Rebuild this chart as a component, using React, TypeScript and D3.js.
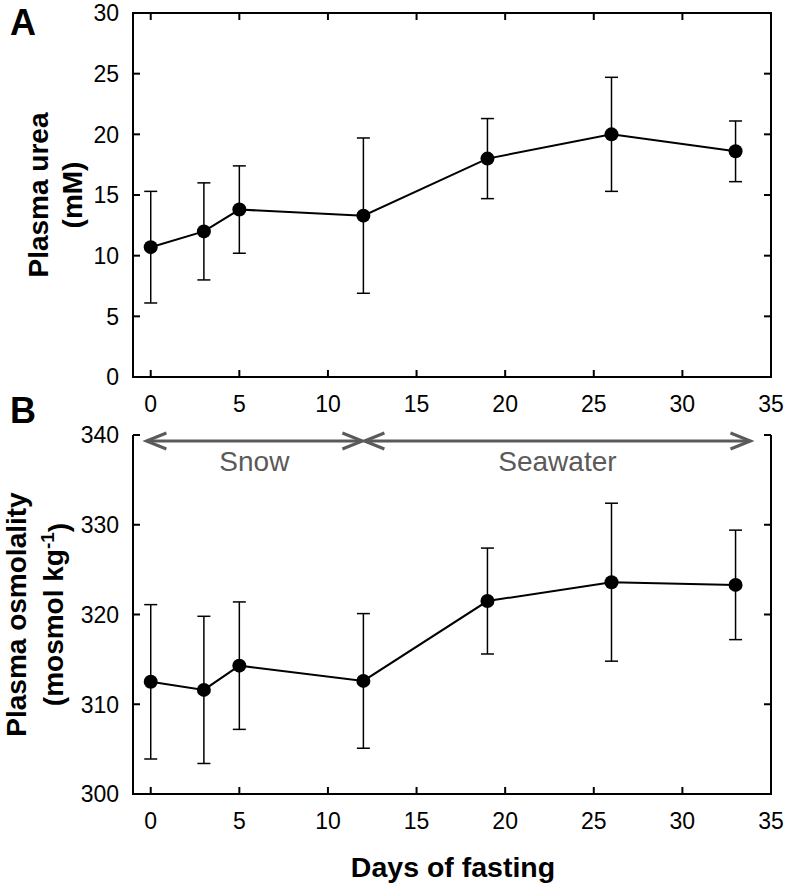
import React from "react";
import * as d3 from "d3";

const days = [0, 3, 5, 12, 19, 26, 33];
const ureaMean = [10.7, 12.0, 13.8, 13.3, 18.0, 20.0, 18.6];
const ureaErr = [4.6, 4.0, 3.6, 6.4, 3.3, 4.7, 2.5];
const osmoMean = [312.5, 311.6, 314.3, 312.6, 321.5, 323.6, 323.3];
const osmoErr = [8.6, 8.2, 7.1, 7.5, 5.9, 8.8, 6.1];
const xTicks = [0, 5, 10, 15, 20, 25, 30, 35];
const ureaTicks = [0, 5, 10, 15, 20, 25, 30];
const osmoTicks = [300, 310, 320, 330, 340];
const periodLabels = ["Snow", "Seawater"];
const periodStart = [-0.3, 12];
const periodEnd = [12, 33.9];

const FONT = "'Liberation Sans', Arial, Helvetica, sans-serif";
const W = 786;
const H = 884;

const x = d3.scaleLinear().domain([-1, 35]).range([133, 771]);
const yA = d3.scaleLinear().domain([0, 30]).range([377, 13]);
const yB = d3.scaleLinear().domain([300, 340]).range([794, 435]);

const TICK = 7;
const CAP = 6.5;

function Series({ y, mean, err }: { y: d3.ScaleLinear<number, number>; mean: number[]; err: number[] }) {
  const line = d3
    .line<number>()
    .x((_, i) => x(days[i]))
    .y((d) => y(d));
  return (
    <g>
      {days.map((d, i) => {
        const cx = x(d);
        const hi = y(mean[i] + err[i]);
        const lo = y(mean[i] - err[i]);
        return (
          <g key={i} stroke="#000" strokeWidth={1.5}>
            <line x1={cx} x2={cx} y1={hi} y2={lo} />
            <line x1={cx - CAP} x2={cx + CAP} y1={hi} y2={hi} />
            <line x1={cx - CAP} x2={cx + CAP} y1={lo} y2={lo} />
          </g>
        );
      })}
      <path d={line(mean) || ""} fill="none" stroke="#000" strokeWidth={2} />
      {days.map((d, i) => (
        <circle key={i} cx={x(d)} cy={y(mean[i])} r={7} fill="#000" />
      ))}
    </g>
  );
}

function Axes({ y, ticks, top }: { y: d3.ScaleLinear<number, number>; ticks: number[]; top: boolean }) {
  const [y0, y1] = y.range();
  const [x0, x1] = x.range();
  return (
    <g stroke="#000" strokeWidth={2} fill="none">
      <line x1={x0} x2={x0} y1={y1} y2={y0 + 1} />
      <line x1={x1} x2={x1} y1={y1} y2={y0 + 1} />
      <line x1={x0 - 1} x2={x1 + 1} y1={y0} y2={y0} />
      {top && <line x1={x0 - 1} x2={x1 + 1} y1={y1} y2={y1} />}
      {xTicks.map((t) => (
        <g key={t}>
          <line x1={x(t)} x2={x(t)} y1={y0} y2={y0 - TICK} />
          {top && <line x1={x(t)} x2={x(t)} y1={y1} y2={y1 + TICK} />}
        </g>
      ))}
      {ticks.map((t) => (
        <g key={t}>
          <line x1={x0} x2={x0 + TICK} y1={y(t)} y2={y(t)} />
          <line x1={x1} x2={x1 - TICK} y1={y(t)} y2={y(t)} />
        </g>
      ))}
      <g fill="#000" stroke="none" fontFamily={FONT} fontSize={23}>
        {ticks.map((t) => (
          <text key={t} x={x0 - 14} y={y(t)} dy="0.36em" textAnchor="end">
            {t}
          </text>
        ))}
        {xTicks.map((t) => (
          <text key={t} x={x(t)} y={y0 + 27} dy="0.36em" textAnchor="middle">
            {t}
          </text>
        ))}
      </g>
    </g>
  );
}

function Periods() {
  const ay = yB.range()[1] + 6;
  const hl = 21;
  const hw = 8;
  return (
    <g>
      {periodLabels.map((lab, i) => {
        const a = x(periodStart[i]);
        const b = x(periodEnd[i]);
        return (
          <g key={lab}>
            <g stroke="#5a5a5a" strokeWidth={3} fill="none">
              <line x1={a + 1} x2={b - 1} y1={ay} y2={ay} />
              <polyline points={`${a + hl},${ay - hw} ${a + 1},${ay} ${a + hl},${ay + hw}`} />
              <polyline points={`${b - hl},${ay - hw} ${b - 1},${ay} ${b - hl},${ay + hw}`} />
            </g>
            <text
              x={(a + b) / 2}
              y={ay + 20}
              dy="0.36em"
              textAnchor="middle"
              fill="#5a5a5a"
              fontFamily={FONT}
              fontSize={28}
            >
              {lab}
            </text>
          </g>
        );
      })}
    </g>
  );
}

export default function App() {
  const midA = (yA.range()[0] + yA.range()[1]) / 2;
  const midB = (yB.range()[0] + yB.range()[1]) / 2;
  return (
    <svg
      width={W}
      height={H}
      style={{ position: "absolute", left: 0, top: 0, background: "#fff" }}
      fontFamily={FONT}
    >
      <rect width={W} height={H} fill="#fff" />
      <Axes y={yA} ticks={ureaTicks} top={true} />
      <Axes y={yB} ticks={osmoTicks} top={false} />
      <Periods />
      <Series y={yA} mean={ureaMean} err={ureaErr} />
      <Series y={yB} mean={osmoMean} err={osmoErr} />

      <text x={23} y={22} dy="0.36em" textAnchor="middle" fontWeight="bold" fontSize={36}>
        A
      </text>
      <text x={23} y={410} dy="0.36em" textAnchor="middle" fontWeight="bold" fontSize={36}>
        B
      </text>

      <g fontWeight="bold" fontSize={28} textAnchor="middle">
        <text transform={`translate(38,${midA}) rotate(-90)`} dy="0.36em">
          Plasma urea
        </text>
        <text transform={`translate(72,${midA}) rotate(-90)`} dy="0.36em">
          (mM)
        </text>
        <text transform={`translate(16,${midB}) rotate(-90)`} dy="0.36em">
          Plasma osmolality
        </text>
        <text transform={`translate(53,${midB}) rotate(-90)`} dy="0.36em">
          (mosmol kg
          <tspan dy="-0.5em" fontSize={19}>
            -1
          </tspan>
          <tspan dy="0.5em">)</tspan>
        </text>
      </g>

      <text x={453} y={867} dy="0.36em" textAnchor="middle" fontWeight="bold" fontSize={28.5}>
        Days of fasting
      </text>
    </svg>
  );
}
